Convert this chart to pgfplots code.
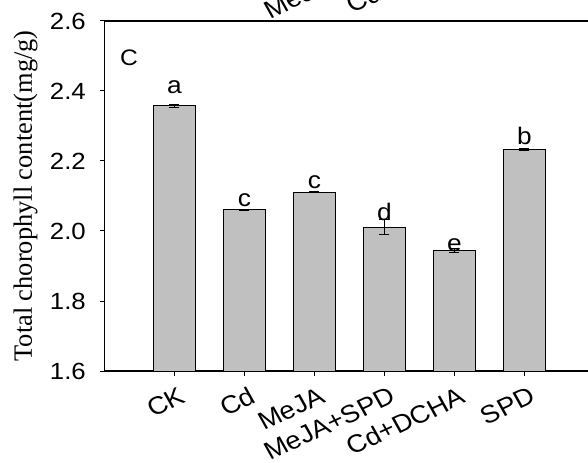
\documentclass[border=0pt]{standalone}
\usepackage{pgfplots}
\pgfplotsset{compat=1.18}
\usepackage{fontspec}
\setmainfont{Liberation Serif}
\newfontfamily\arial{Liberation Sans}
\definecolor{barfill}{RGB}{192,192,192}
\begin{document}
\begin{tikzpicture}
\begin{axis}[
  scale only axis, width=483.5bp, height=350bp,
  xmin=-1, xmax=5.91, ymin=1.6, ymax=2.6,
  axis x line*=box, axis y line*=left,
  ybar, bar width=42bp, clip=false,
  xtick={0,1,2,3,4,5},
  xticklabels={CK,Cd,MeJA,MeJA+SPD,Cd+DCHA,SPD},
  ytick={1.6,1.8,2.0,2.2,2.4,2.6},
  xtick pos=lower, ytick pos=left,
  tick align=outside, major tick length=4.5bp,
  tick style={black, line width=1bp},
  axis line style={black, line width=1.3bp},
  /pgf/number format/assume math mode=true,
  yticklabel style={font=\arial\fontsize{23.5}{26}\selectfont, /pgf/number format/fixed, /pgf/number format/fixed zerofill, /pgf/number format/precision=1, anchor=east, inner sep=0pt, xshift=-14bp, xscale=1.1},
  xticklabel style={font=\arial\fontsize{25}{28}\selectfont, xshift=4bp, yshift=-10.5bp, xscale=1.1, rotate=27, anchor=north east, inner sep=0pt},
]
\addplot[ybar, fill=barfill, draw=black, line width=1bp,
  error bars/.cd, y dir=both, y explicit,
  error bar style={line width=0.8bp, black},
  error mark options={rotate=90, mark size=5bp, line width=0.8bp, black}]
  coordinates {
  (0,2.358) +- (0,0.005)
  (1,2.061) +- (0,0.002)
  (2,2.111) +- (0,0.002)
  (3,2.011) +- (0,0.022)
  (4,1.944) +- (0,0.005)
  (5,2.234) +- (0,0.003)
  };
\coordinate (SW) at (rel axis cs:0,0);
\coordinate (NE) at (rel axis cs:1,1);
\coordinate (YC) at (rel axis cs:0,0.5);
\node[font=\arial\fontsize{24}{27}\selectfont, anchor=base, inner sep=0pt, xscale=1.1] at (axis cs:0,2.393) {a};
\node[font=\arial\fontsize{24}{27}\selectfont, anchor=base, inner sep=0pt, xscale=1.1] at (axis cs:1,2.071) {c};
\node[font=\arial\fontsize{24}{27}\selectfont, anchor=base, inner sep=0pt, xscale=1.1] at (axis cs:2,2.120) {c};
\node[font=\arial\fontsize{24}{27}\selectfont, anchor=base, inner sep=0pt, xscale=1.1] at (axis cs:3,2.031) {d};
\node[font=\arial\fontsize{24}{27}\selectfont, anchor=base, inner sep=0pt, xscale=1.1] at (axis cs:4,1.941) {e};
\node[font=\arial\fontsize{24}{27}\selectfont, anchor=base, inner sep=0pt, xscale=1.1] at (axis cs:5,2.246) {b};
\node[font=\arial\fontsize{22.5}{26}\selectfont, anchor=base west, inner sep=0pt, xscale=1.1] at (axis cs:-0.78,2.472) {C};
\node[font=\arial\fontsize{25}{28}\selectfont, inner sep=0pt, overlay, xshift=4bp, yshift=426.5bp, xscale=1.1, rotate=27, anchor=north east] at (axis cs:3,1.6) {MeJA+SPD};
\node[font=\arial\fontsize{25}{28}\selectfont, inner sep=0pt, overlay, xshift=4bp, yshift=426.5bp, xscale=1.1, rotate=27, anchor=north east] at (axis cs:4,1.6) {Cd+DCHA};
\end{axis}
\node[rotate=90, font=\fontsize{26.5}{30}\selectfont, inner sep=0pt] at ([xshift=-79bp]YC) {Total chorophyll content(mg/g)};
\pgfresetboundingbox
\path[use as bounding box] ([xshift=-104.5bp,yshift=-92bp]SW) rectangle ([yshift=21bp]NE);
\end{tikzpicture}
\end{document}
